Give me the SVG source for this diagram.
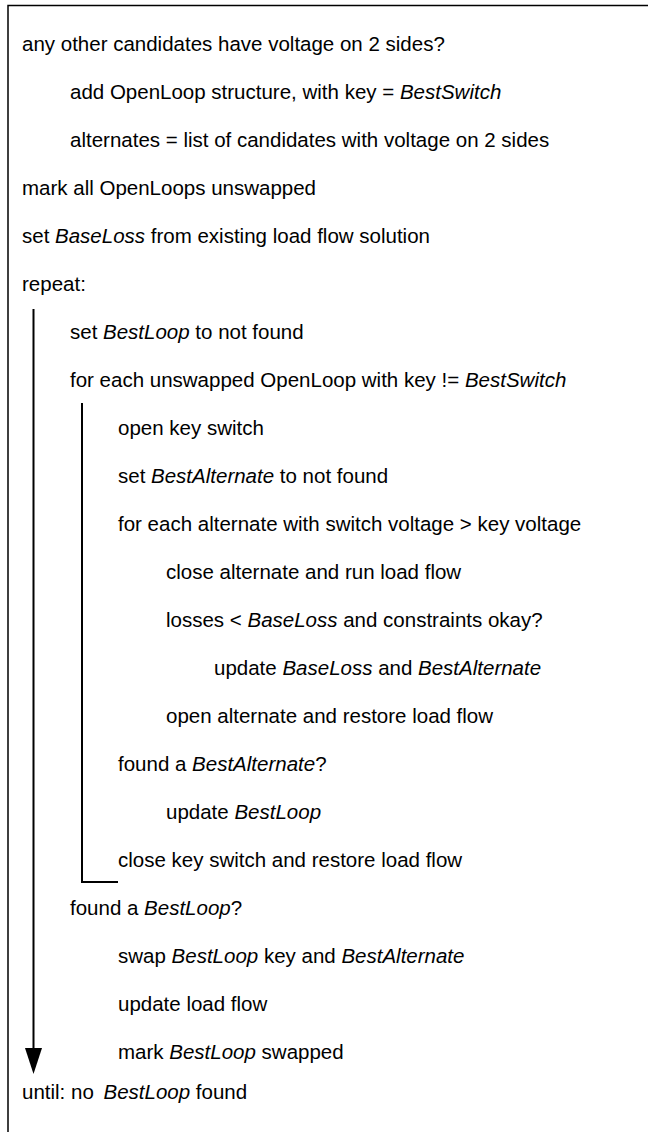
<svg xmlns="http://www.w3.org/2000/svg" width="650" height="1132" viewBox="0 0 650 1132">
<style>
text{font-family:"Liberation Sans",Arial,sans-serif;font-size:20.5px;fill:#000}
.i{font-style:italic}
.ln{stroke:#000;stroke-width:2;fill:none}
.bd{stroke:#000;stroke-width:1.5;fill:none}
</style>
<g id="frame">
<path class="bd" d="M8,1132 V5.5 H648"/>
</g>
<g id="connectors">
<line class="ln" x1="33.5" y1="309" x2="33.5" y2="1050"/>
<polygon points="25,1048 42,1048 33.5,1074" fill="#000"/>
<path class="ln" d="M82,403 V882 H118"/>
</g>
<g id="lines">
<text x="22" y="50.7">any other candidates have voltage on 2 sides?</text>
<text x="70" y="98.7">add OpenLoop structure, with key = <tspan class="i">BestSwitch</tspan></text>
<text x="70" y="146.7">alternates = list of candidates with voltage on 2 sides</text>
<text x="22" y="194.7">mark all OpenLoops unswapped</text>
<text x="22" y="242.7">set <tspan class="i">BaseLoss</tspan> from existing load flow solution</text>
<text x="22" y="290.7">repeat:</text>
<text x="70" y="338.7">set <tspan class="i">BestLoop</tspan> to not found</text>
<text x="70" y="386.7">for each unswapped OpenLoop with key != <tspan class="i">BestSwitch</tspan></text>
<text x="118" y="434.7">open key switch</text>
<text x="118" y="482.7">set <tspan class="i">BestAlternate</tspan> to not found</text>
<text x="118" y="530.7">for each alternate with switch voltage &gt; key voltage</text>
<text x="166" y="578.7">close alternate and run load flow</text>
<text x="166" y="626.7">losses &lt; <tspan class="i">BaseLoss</tspan> and constraints okay?</text>
<text x="214" y="674.7">update <tspan class="i">BaseLoss</tspan> and <tspan class="i">BestAlternate</tspan></text>
<text x="166" y="722.7">open alternate and restore load flow</text>
<text x="118" y="770.7">found a <tspan class="i">BestAlternate</tspan>?</text>
<text x="166" y="818.7">update <tspan class="i">BestLoop</tspan></text>
<text x="118" y="866.7">close key switch and restore load flow</text>
<text x="70" y="914.7">found a <tspan class="i">BestLoop</tspan>?</text>
<text x="118" y="962.7">swap <tspan class="i">BestLoop</tspan> key and <tspan class="i">BestAlternate</tspan></text>
<text x="118" y="1010.7">update load flow</text>
<text x="118" y="1058.7">mark <tspan class="i">BestLoop</tspan> swapped</text>
<text x="22" y="1099">until: no <tspan class="i" dx="4">BestLoop</tspan> found</text>
</g>
</svg>
